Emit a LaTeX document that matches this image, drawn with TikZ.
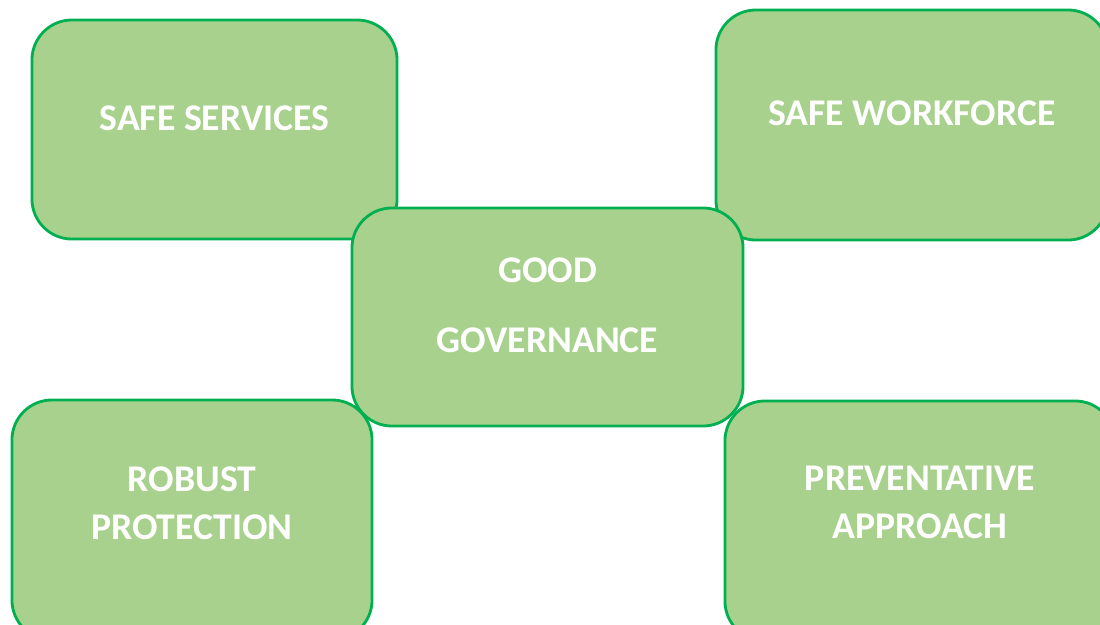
\documentclass[tikz,border=0pt]{standalone}
\usepackage{fontspec}
\setmainfont{Carlito}
\definecolor{pillarfill}{HTML}{A9D18E}
\definecolor{pillarline}{HTML}{00B050}
\tikzset{
  pillar/.style={draw=pillarline,fill=pillarfill,line width=2pt,
    rounded corners=1cm,inner sep=0pt},
  pillartext/.style={text=white,font=\bfseries\fontsize{26.8}{34}\selectfont,
    align=center,inner sep=0pt}
}
\begin{document}
\begin{tikzpicture}[x=0.025cm,y=-0.025cm]
  \useasboundingbox (0,0) rectangle (1100,625);
  \clip (0,0) rectangle (1100,625);
  \node[pillar,minimum width=9.125cm,minimum height=5.475cm]  (services)     at (214.5,129.5) {};
  \node[pillar,minimum width=9.8cm,minimum height=5.75cm]     (workforce)    at (912,125)     {};
  \node[pillar,minimum width=9cm,minimum height=6cm]          (robust)       at (192,520)     {};
  \node[pillar,minimum width=9.75cm,minimum height=6cm]       (preventative) at (920,521)     {};
  \node[pillar,minimum width=9.775cm,minimum height=5.45cm]   (governance)   at (547.5,317)   {};
  \node[pillartext] (servicesText)     at (214.5,118) {SAFE SERVICES};
  \node[pillartext] (workforceText)    at (912,113)   {SAFE WORKFORCE};
  \node[pillartext] (governanceText)   at (547.5,305) {GOOD\\[16pt]GOVERNANCE};
  \node[pillartext] (robustText)       at (192,503)   {ROBUST\\PROTECTION};
  \node[pillartext] (preventativeText) at (920,502)   {PREVENTATIVE\\APPROACH};
\end{tikzpicture}
\end{document}
